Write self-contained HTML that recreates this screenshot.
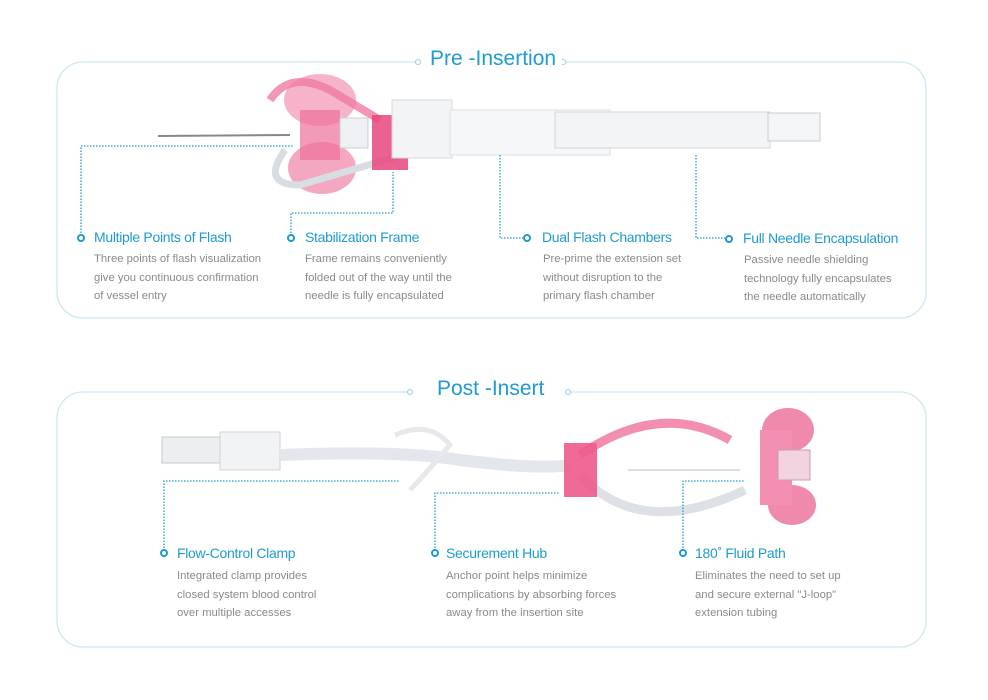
<!DOCTYPE html>
<html><head><meta charset="utf-8"><style>
body{margin:0;width:988px;height:700px;background:#fff;position:relative;overflow:hidden;font-family:"Liberation Sans",sans-serif}
.t{position:absolute;white-space:nowrap}
.h{font-size:14px;color:#1e9bd2;letter-spacing:-0.3px}
.b{font-size:11.3px;color:#8a8a8a;line-height:18.5px}
.title{font-size:21px;color:#1e9bd2;background:#fff;padding:0 6px}
</style></head><body>
<svg width="988" height="700" style="position:absolute;left:0;top:0">
<g fill="none" stroke="#cfe8f1" stroke-width="1.3">
<rect x="57" y="62" width="869" height="256" rx="26"/>
<rect x="57" y="392" width="869" height="255" rx="26"/>
</g>
<rect x="420" y="50" width="142" height="24" fill="#fff"/>
<rect x="412" y="380" width="155" height="24" fill="#fff"/>
<g fill="#fff" stroke="#8fd0e8" stroke-width="1"><circle cx="418" cy="62" r="2.5"/><circle cx="563" cy="62" r="2.5"/><circle cx="410" cy="392" r="2.5"/><circle cx="568" cy="392" r="2.5"/></g>
<!-- top device -->
<line x1="158" y1="136" x2="290" y2="135" stroke="#888" stroke-width="2"/>
<ellipse cx="320" cy="100" rx="36" ry="26" fill="#f39ab8" opacity=".75"/>
<ellipse cx="322" cy="168" rx="34" ry="26" fill="#f08aac" opacity=".75"/>
<rect x="300" y="110" width="40" height="50" fill="#ee6f9a" opacity=".7"/>
<path d="M270 100 Q290 70 330 90 L380 120" fill="none" stroke="#f07aa3" stroke-width="8" opacity=".8"/>
<path d="M285 150 Q260 185 300 185 L420 150 L600 145" fill="none" stroke="#d8dde2" stroke-width="7"/>
<rect x="340" y="118" width="28" height="30" fill="#eef0f3" stroke="#c8ccd2"/>
<rect x="372" y="115" width="36" height="55" fill="#e8457e" opacity=".85"/>
<rect x="392" y="100" width="60" height="58" fill="#f3f4f6" stroke="#d5d8dc"/>
<rect x="450" y="110" width="160" height="45" fill="#f6f7f8" stroke="#dcdfe3"/>
<rect x="555" y="112" width="215" height="36" fill="#f3f4f6" stroke="#d2d6da"/>
<rect x="768" y="113" width="52" height="28" fill="#f4f5f7" stroke="#c8ccd1"/>
<!-- bottom device -->
<rect x="162" y="437" width="58" height="26" fill="#eceef1" stroke="#c5c9ce"/>
<rect x="220" y="432" width="60" height="38" fill="#f2f3f5" stroke="#cfd3d8"/>
<path d="M280 455 Q400 450 460 460 Q540 470 570 465" fill="none" stroke="#e3e6ea" stroke-width="12"/>
<path d="M395 435 Q430 420 450 445 Q420 480 410 490" fill="none" stroke="#e6e8eb" stroke-width="5"/>
<path d="M580 455 Q660 400 730 440" fill="none" stroke="#f07aa3" stroke-width="9" opacity=".85"/>
<path d="M580 475 Q640 540 745 490" fill="none" stroke="#dde1e5" stroke-width="9"/>
<rect x="564" y="443" width="33" height="54" fill="#ee5a8c" opacity=".9"/>
<line x1="628" y1="470" x2="740" y2="470" stroke="#ddd" stroke-width="2"/>
<ellipse cx="788" cy="430" rx="26" ry="22" fill="#f08aac"/>
<ellipse cx="792" cy="505" rx="24" ry="20" fill="#f08aac"/>
<rect x="760" y="430" width="32" height="75" fill="#f28fb2"/>
<rect x="778" y="450" width="32" height="30" fill="#f2d4e0" stroke="#c9b"/>
<!-- connectors -->
<g fill="none" stroke="#1e9bd2" stroke-width="1.3" stroke-dasharray="1.5 1.5">
<path d="M81 233 V146 H293"/>
<path d="M291 233 V213 H393 V172"/>
<path d="M500 155 V238 H523"/>
<path d="M696 155 V238 H725"/>
<path d="M164 548 V481 H400"/>
<path d="M435 548 V493 H560"/>
<path d="M683 548 V481 H745"/>
</g>
<g fill="#fff" stroke="#1e9bd2" stroke-width="2">
<circle cx="81" cy="238" r="3"/><circle cx="291" cy="238" r="3"/><circle cx="527" cy="238" r="3"/><circle cx="729" cy="239" r="3"/>
<circle cx="164" cy="553" r="3"/><circle cx="435" cy="553" r="3"/><circle cx="683" cy="553" r="3"/>
</g>
</svg>
<div class="t title" style="left:424px;top:47px">Pre -Insertion</div>
<div class="t title" style="left:431px;top:377px">Post -Insert</div>

<div class="t h" style="left:94px;top:229px">Multiple Points of Flash</div>
<div class="t b" style="left:94px;top:250px">Three points of flash visualization<br>give you continuous confirmation<br>of vessel entry</div>
<div class="t h" style="left:305px;top:229px">Stabilization Frame</div>
<div class="t b" style="left:305px;top:250px">Frame remains conveniently<br>folded out of the way until the<br>needle is fully encapsulated</div>
<div class="t h" style="left:542px;top:229px">Dual Flash Chambers</div>
<div class="t b" style="left:543px;top:250px">Pre-prime the extension set<br>without disruption to the<br>primary flash chamber</div>
<div class="t h" style="left:743px;top:230px">Full Needle Encapsulation</div>
<div class="t b" style="left:744px;top:251px">Passive needle shielding<br>technology fully encapsulates<br>the needle automatically</div>

<div class="t h" style="left:177px;top:545px">Flow-Control Clamp</div>
<div class="t b" style="left:177px;top:567px">Integrated clamp provides<br>closed system blood control<br>over multiple accesses</div>
<div class="t h" style="left:446px;top:545px">Securement Hub</div>
<div class="t b" style="left:446px;top:567px">Anchor point helps minimize<br>complications by absorbing forces<br>away from the insertion site</div>
<div class="t h" style="left:695px;top:545px">180˚ Fluid Path</div>
<div class="t b" style="left:695px;top:567px">Eliminates the need to set up<br>and secure external "J-loop"<br>extension tubing</div>
</body></html>
